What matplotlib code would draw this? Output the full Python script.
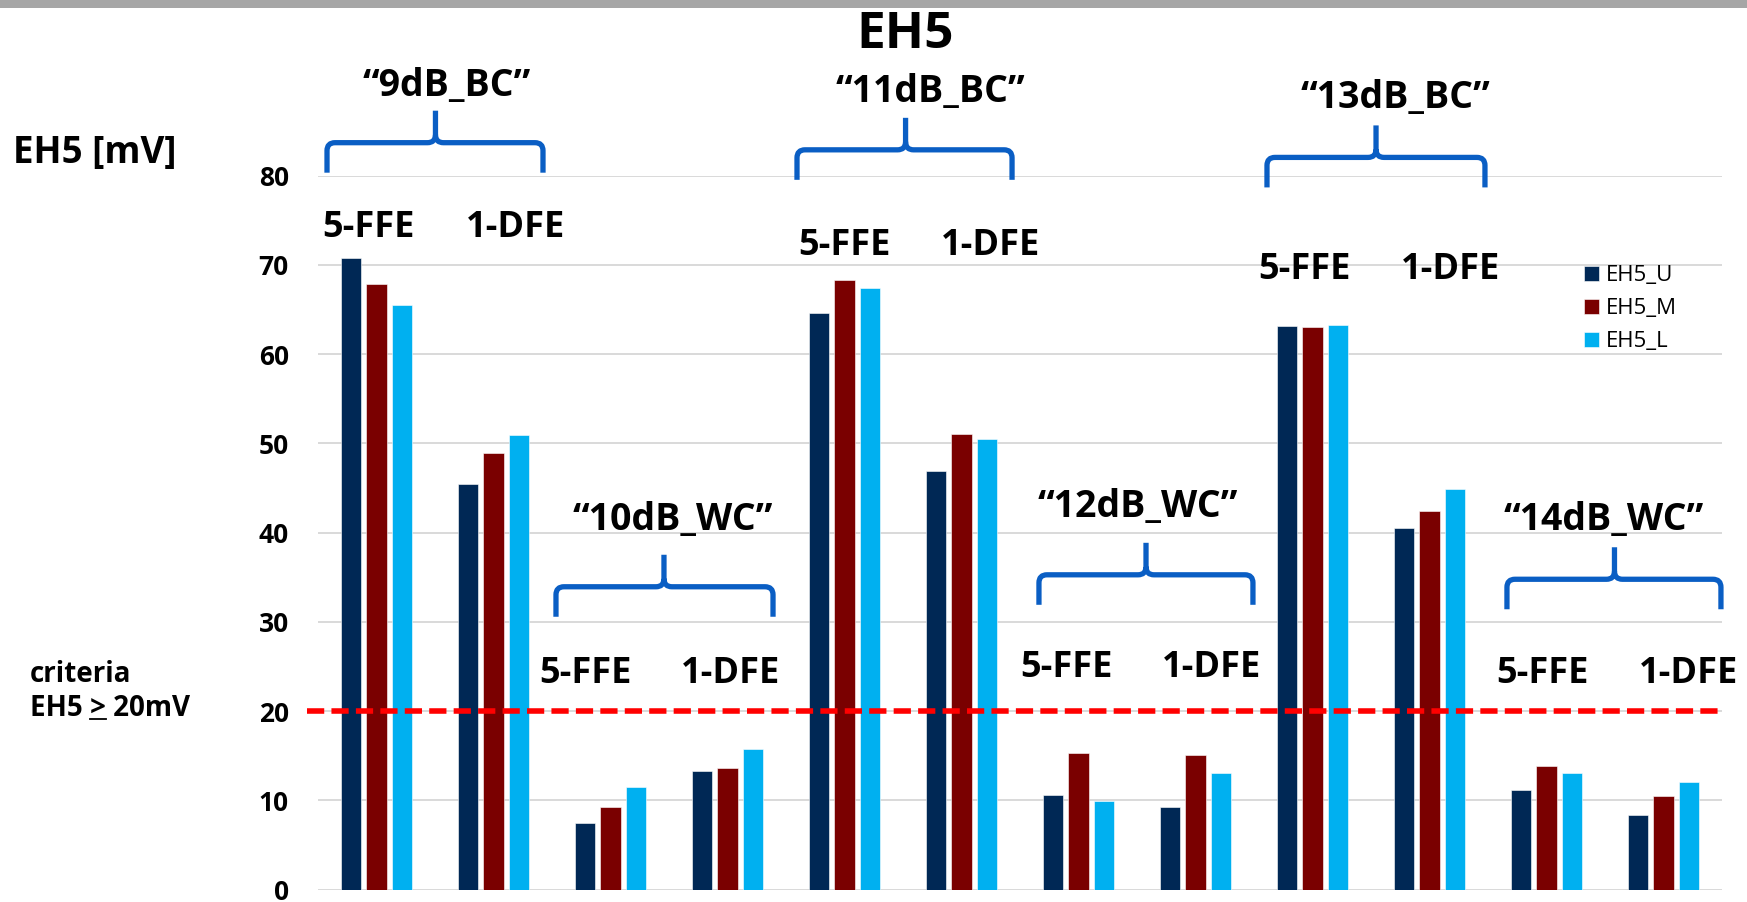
import matplotlib
matplotlib.use("Agg")
import matplotlib.pyplot as plt
from matplotlib.patches import Rectangle, PathPatch
from matplotlib.path import Path
import numpy as np

plt.rcParams['font.family'] = ['Open Sans', 'DejaVu Sans']

# ---- data -------------------------------------------------------------
channels = ["9dB_BC", "10dB_WC", "11dB_BC", "12dB_WC", "13dB_BC", "14dB_WC"]
equalizers = ["5-FFE", "1-DFE"]
series_names = ["EH5_U", "EH5_M", "EH5_L"]

# one value per (channel, equalizer) pair, in channel order
eh5_u = [70.8, 45.4, 7.4, 13.3, 64.6, 46.9, 10.6, 9.3, 63.1, 40.5, 11.2, 8.4]
eh5_m = [67.9, 48.9, 9.3, 13.6, 68.3, 51.0, 15.3, 15.1, 63.0, 42.4, 13.8, 10.5]
eh5_l = [65.5, 50.9, 11.5, 15.8, 67.4, 50.5, 9.9, 13.1, 63.3, 44.9, 13.1, 12.0]

criteria_mv = 20
y_ticks = [0, 10, 20, 30, 40, 50, 60, 70, 80]

# ---- layout of annotations (data coordinates) ---------------------------
# channel label: (x, baseline y)
channel_label_pos = [(0.601, 88.97), (2.534, 40.26), (4.731, 88.30),
                     (6.509, 41.71), (8.705, 87.63), (10.491, 40.26)]
# brace: (left x, right x, centre x, height of horizontal stroke)
brace_pos = [(-0.423, 1.423, 0.504, 83.70), (1.534, 3.389, 2.457, 33.93),
             (3.594, 5.432, 4.522, 82.90), (5.662, 7.491, 6.577, 35.27),
             (7.611, 9.474, 8.543, 82.05), (9.662, 11.491, 10.581, 34.77)]
# equalizer labels: (x of 5-FFE, x of 1-DFE, baseline y)
eq_label_pos = [(-0.073, 1.192, 73.10), (1.782, 3.030, 23.18),
                (3.996, 5.244, 71.16), (5.893, 7.141, 23.80),
                (7.927, 9.184, 68.37), (9.962, 11.218, 23.18)]

colors = ["#002855", "#7A0000", "#00B0F0"]
brace_color = "#0A5EC4"

W, H = 1747, 902
fig = plt.figure(figsize=(W / 100, H / 100), dpi=100)
fig.patch.set_facecolor("white")

# grey strip along the top edge
fig.patches.append(Rectangle((0, 1 - 8 / H), 1, 8 / H, transform=fig.transFigure,
                             facecolor="#A6A6A6", edgecolor="none"))

ax_left, ax_bottom = 318 / W, 1 - 889.5 / H
ax_w, ax_h = 1404 / W, (889.5 - 175.7) / H
ax = fig.add_axes([ax_left, ax_bottom, ax_w, ax_h])

n = len(eh5_u)
x = np.arange(n)
bar_w = 0.171
step = 0.222
for i, (vals, c, name) in enumerate(zip([eh5_u, eh5_m, eh5_l], colors, series_names)):
    ax.bar(x + (i - 1) * step, vals, width=bar_w, color=c, label=name,
           edgecolor="white", linewidth=0.4, zorder=2)

ax.set_xlim(-0.5, n - 0.5)
ax.set_ylim(0, 80)
ax.set_yticks(y_ticks)
ax.set_yticklabels([str(v) for v in y_ticks], fontsize=19, fontweight="bold")
ax.tick_params(axis="y", length=0, pad=21)
ax.set_xticks([])
for s in ax.spines.values():
    s.set_visible(False)
ax.yaxis.grid(True, color="#D9D9D9", linewidth=1.4)
ax.set_axisbelow(True)

# criteria line
ax.plot([-0.594, 11.483], [criteria_mv, criteria_mv], color="#FF0000", lw=4,
        dashes=(3.1, 1.3), solid_capstyle="butt", dash_capstyle="butt",
        clip_on=False, zorder=3)

# braces
sx = W * ax_w / n          # pixels per category
sy = H * ax_h / 80.0       # pixels per mV
drop, rise, r = 30, 32, 8


def brace(x0, x1, xc, yh):
    rx, ry = r / sx, r / sy
    yb, yp = yh - drop / sy, yh + rise / sy
    verts = [(x0, yb), (x0, yh - ry), (x0, yh), (x0 + rx, yh), (xc - rx, yh),
             (xc, yh), (xc, yh + ry), (xc, yp),
             (xc, yh + ry), (xc, yh), (xc + rx, yh), (x1 - rx, yh),
             (x1, yh), (x1, yh - ry), (x1, yb)]
    codes = [Path.MOVETO, Path.LINETO, Path.CURVE3, Path.CURVE3, Path.LINETO,
             Path.CURVE3, Path.CURVE3, Path.LINETO,
             Path.MOVETO, Path.CURVE3, Path.CURVE3, Path.LINETO,
             Path.CURVE3, Path.CURVE3, Path.LINETO]
    ax.add_patch(PathPatch(Path(verts, codes), facecolor="none", edgecolor=brace_color,
                           lw=3.8, capstyle="butt", joinstyle="round",
                           clip_on=False, zorder=4))


for (x0, x1, xc, yh) in brace_pos:
    brace(x0, x1, xc, yh)

for name, (tx, ty) in zip(channels, channel_label_pos):
    ax.text(tx, ty, "\u201c" + name + "\u201d", ha="center", va="baseline",
            fontsize=27, fontweight="bold", clip_on=False, zorder=5)

for (xf, xd, ty) in eq_label_pos:
    ax.text(xf, ty, equalizers[0], ha="center", va="baseline", fontsize=26,
            fontweight="bold", clip_on=False, zorder=5)
    ax.text(xd, ty, equalizers[1], ha="center", va="baseline", fontsize=26,
            fontweight="bold", clip_on=False, zorder=5)

# titles
fig.text(905 / W, 1 - 48 / H, "EH5", ha="center", va="baseline", fontsize=37,
         fontweight="bold")
fig.text(12.6 / W, 1 - 163 / H, "EH5 [mV]", ha="left", va="baseline", fontsize=26.5,
         fontweight="bold")

# criteria note with underlined ">"
cx = 30 / W
fig.text(cx, 1 - 681.7 / H, "criteria", ha="left", va="baseline", fontsize=20,
         fontweight="bold")
crit = fig.text(cx, 1 - 715.7 / H, "EH5 > 20mV", ha="left", va="baseline",
                fontsize=20, fontweight="bold")
renderer = fig.canvas.get_renderer()
probe1 = fig.text(cx, 0.5, "EH5 >", ha="left", fontsize=20, fontweight="bold")
probe2 = fig.text(cx, 0.5, ">", ha="left", fontsize=20, fontweight="bold")
w1 = probe1.get_window_extent(renderer).width
w2 = probe2.get_window_extent(renderer).width
probe1.remove()
probe2.remove()
ux0 = 30 + w1 - w2
ux1 = 30 + w1
fig.add_artist(plt.Line2D([ux0 / W, ux1 / W], [1 - 718.5 / H, 1 - 718.5 / H],
                          transform=fig.transFigure, color="black", lw=1.3))

# legend
leg = ax.legend(loc="upper left", bbox_to_anchor=(1584 / W, 1 - 265 / H),
                bbox_transform=fig.transFigure, frameon=False, fontsize=16,
                handlelength=0.66, handleheight=0.66, handletextpad=0.34,
                labelspacing=0.55, borderpad=0, borderaxespad=0)

fig.savefig("out.png", dpi=100, facecolor="white")
